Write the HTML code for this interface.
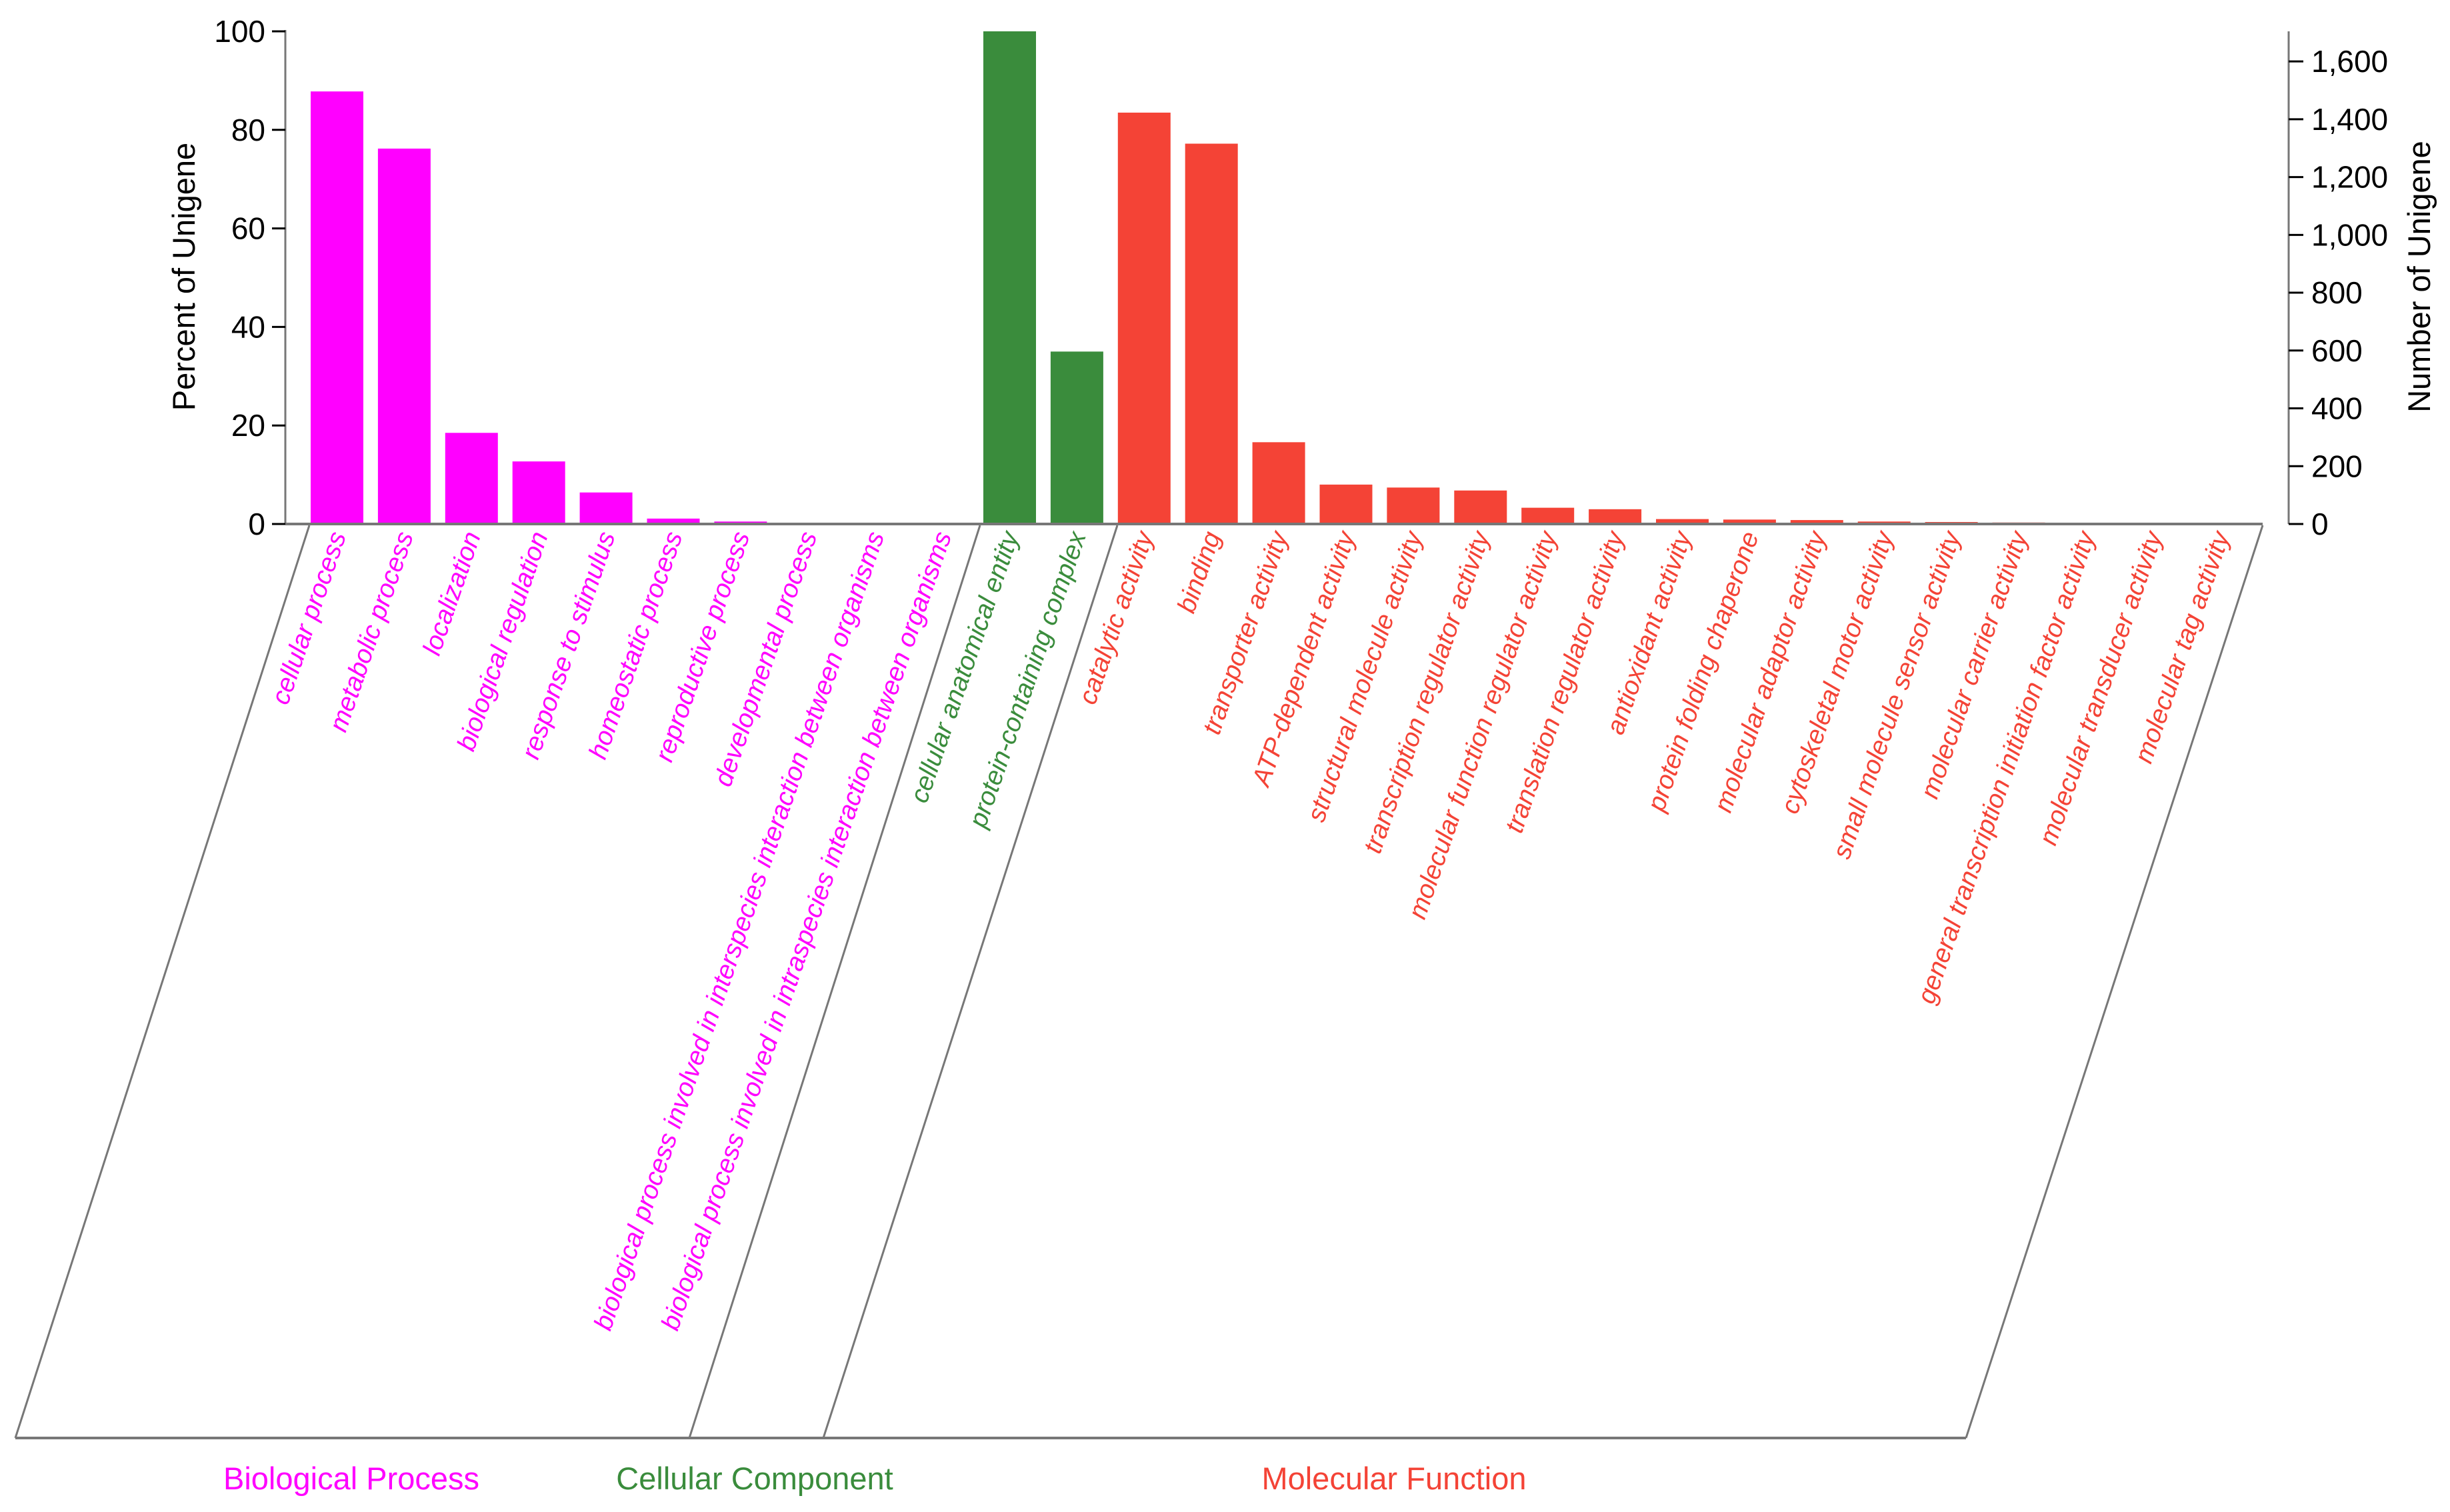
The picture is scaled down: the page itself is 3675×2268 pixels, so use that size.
<!DOCTYPE html>
<html><head><meta charset="utf-8"><style>
html,body{margin:0;padding:0;background:#fff}
svg{display:block;font-family:"Liberation Sans",Arial,sans-serif}
</style></head><body>
<svg id="chart" width="3675" height="2268" viewBox="0 0 3675 2268" xmlns="http://www.w3.org/2000/svg">
<g id="bars"></g>
<g id="labels"></g>
<g id="axes"></g>
</svg>
<script>
const categories = ["cellular process","metabolic process","localization","biological regulation","response to stimulus","homeostatic process","reproductive process","developmental process","biological process involved in interspecies interaction between organisms","biological process involved in intraspecies interaction between organisms","cellular anatomical entity","protein-containing complex","catalytic activity","binding","transporter activity","ATP-dependent activity","structural molecule activity","transcription regulator activity","molecular function regulator activity","translation regulator activity","antioxidant activity","protein folding chaperone","molecular adaptor activity","cytoskeletal motor activity","small molecule sensor activity","molecular carrier activity","general transcription initiation factor activity","molecular transducer activity","molecular tag activity"];
const groups = ["BP","BP","BP","BP","BP","BP","BP","BP","BP","BP","CC","CC","MF","MF","MF","MF","MF","MF","MF","MF","MF","MF","MF","MF","MF","MF","MF","MF","MF"];
const percentValues = [87.8,76.2,18.5,12.7,6.4,1.1,0.5,0.15,0.1,0.1,100,35.0,83.5,77.2,16.6,8.0,7.4,6.8,3.3,3.0,1.0,0.9,0.8,0.5,0.4,0.3,0.2,0.15,0.1];
const leftTicks = [0,20,40,60,80,100];
const rightTicks = [0,200,400,600,800,1000,1200,1400,1600];
const rightTickLabels = ["0","200","400","600","800","1,000","1,200","1,400","1,600"];
const groupNames = ["Biological Process","Cellular Component","Molecular Function"];
const totalUnigene = 1704;

const colors = {BP:"#ff00ff", CC:"#3a8c3c", MF:"#f44336"};
const NS = "http://www.w3.org/2000/svg";
const X0 = 428, Y0 = 786, Y100 = 47, PITCH = 100.9, BW = 79, BAR0 = 466;
const yPct = v => Y0 - (v/100)*(Y0-Y100);
const yNum = v => yPct(v/totalUnigene*100);
const xBar = i => BAR0 + i*PITCH;
function mk(tag, attrs, parent){const e=document.createElementNS(NS,tag);for(const k in attrs)e.setAttribute(k,attrs[k]);parent.appendChild(e);return e;}

const gb = document.getElementById('bars');
const gl = document.getElementById('labels');
const ga = document.getElementById('axes');

percentValues.forEach((v,i)=>{
  const r = mk('rect',{x:xBar(i),y:yPct(v),width:BW,height:Y0-yPct(v),fill:colors[groups[i]]},gb);
  
  
  const cx = xBar(i)+BW/2+14, cy = 803;
  const t = mk('text',{x:cx,y:cy,'text-anchor':'end','font-size':39,'font-style':'italic',fill:colors[groups[i]],transform:`rotate(-71 ${cx} ${cy})`},gl);
  t.textContent = categories[i];
  
  
});

// left axis
mk('line',{x1:X0,y1:Y100-2,x2:X0,y2:Y0,stroke:'#777','stroke-width':3},ga);
leftTicks.forEach(v=>{
  mk('line',{x1:X0-20,y1:yPct(v),x2:X0,y2:yPct(v),stroke:'#000','stroke-width':3},ga);
  const t=mk('text',{x:X0-30,y:yPct(v)+16,'text-anchor':'end','font-size':46,fill:'#000'},ga);
  t.textContent=v;
  
  
});
const lt=mk('text',{x:292,y:415,'text-anchor':'middle','font-size':47,fill:'#000',transform:'rotate(-90 292 415)'},ga);
lt.textContent='Percent of Unigene';



// right axis
const XR=3433;
mk('line',{x1:XR,y1:Y100,x2:XR,y2:Y0,stroke:'#777','stroke-width':3},ga);
rightTicks.forEach((v,i)=>{
  mk('line',{x1:XR,y1:yNum(v),x2:XR+22,y2:yNum(v),stroke:'#000','stroke-width':3},ga);
  const t=mk('text',{x:XR+34,y:yNum(v)+16,'text-anchor':'start','font-size':46,fill:'#000'},ga);
  t.textContent=rightTickLabels[i];
  
  
});
const rt=mk('text',{x:3645,y:415,'text-anchor':'middle','font-size':47,fill:'#000',transform:'rotate(-90 3645 415)'},ga);
rt.textContent='Number of Unigene';



// baseline and group frames
mk('line',{x1:X0,y1:Y0,x2:3394,y2:Y0,stroke:'#777','stroke-width':4},ga);
const frames=[[464,23],[1470,1034],[1676,1235],[3394,2949]];
frames.forEach(f=>{mk('line',{x1:f[0],y1:788,x2:f[1],y2:2157,stroke:'#777','stroke-width':3},ga);});
mk('line',{x1:23,y1:2157,x2:2949,y2:2157,stroke:'#777','stroke-width':4},ga);
const gx=[527,1132,2091], gc=[colors.BP,colors.CC,colors.MF];
groupNames.forEach((n,i)=>{
  const t=mk('text',{x:gx[i],y:2234,'text-anchor':'middle','font-size':47,fill:gc[i]},ga);
  t.textContent=n;
  
  
});
</script>
</body></html>
